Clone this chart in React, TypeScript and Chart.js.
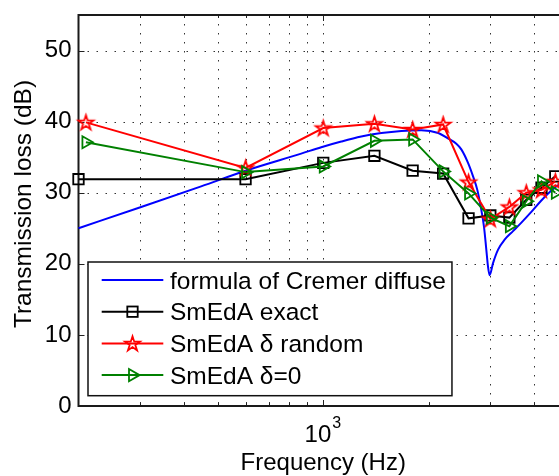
import React, { useEffect, useRef } from 'react';
import { Chart, registerables } from 'chart.js';

Chart.register(...registerables);

const FONT = '"Liberation Sans", Arial, Helvetica, sans-serif';

// ---- data ----
const cremerFreq = [200, 302, 448, 609, 865, 987, 1126, 1284, 1465, 1671, 1905, 2131, 2276, 2399, 2479, 2591, 2678, 2754, 2815, 2878, 2922, 2955, 2987, 3054, 3157, 3296, 3483, 3680, 3929, 4196, 4482, 4786, 5110];
const cremerTL = [25.0, 28.0, 30.9, 33.2, 35.5, 36.4, 37.2, 37.9, 38.4, 38.7, 38.8, 38.4, 37.6, 36.9, 36.1, 34.2, 32.3, 30.4, 28.1, 25.2, 22.0, 19.6, 18.4, 20.1, 22.0, 23.4, 24.6, 25.8, 27.3, 28.9, 30.3, 31.4, 32.3];

const exactFreq = [200, 600, 1000, 1400, 1800, 2200, 2600, 3000, 3400, 3800, 4200, 4600];
const exactTL = [31.9, 31.9, 34.2, 35.2, 33.1, 32.7, 26.4, 26.8, 26.5, 29.0, 30.7, 32.3];

const randomFreq = [210, 600, 1000, 1400, 1800, 2200, 2600, 3000, 3400, 3800, 4200, 4600];
const randomTL = [39.9, 33.5, 39.1, 39.7, 38.9, 39.6, 31.5, 26.3, 28.0, 30.0, 30.4, 31.6];

const zeroFreq = [210, 600, 1000, 1400, 1800, 2200, 2600, 3000, 3400, 3800, 4200, 4600];
const zeroTL = [37.1, 32.9, 33.7, 37.3, 37.5, 33.0, 29.9, 26.5, 25.3, 28.8, 31.6, 30.0];

const xGridTicks = [300, 400, 500, 600, 700, 800, 900, 1000, 2000, 3000, 4000];
const xMajorTicks = [1000];
const yTicks = [0, 10, 20, 30, 40, 50];

const legendLabels = ['formula of Cremer diffuse', 'SmEdA exact', 'SmEdA \u03b4 random', 'SmEdA \u03b4=0'];
const xTitle = 'Frequency (Hz)';
const yTitle = 'Transmission loss (dB)';

const BLUE = '#0000ff';
const BLACK = '#000000';
const RED = '#ff0000';
const GREEN = '#008000';

function makeStar(color: string, R: number, lw: number): HTMLCanvasElement {
  const c = document.createElement('canvas');
  const size = Math.ceil(2 * R + lw * 2 + 3);
  c.width = size;
  c.height = size;
  const g = c.getContext('2d')!;
  const cx = size / 2;
  const cy = size / 2 + R * 0.08;
  g.beginPath();
  for (let i = 0; i < 10; i++) {
    const ang = -Math.PI / 2 + (i * Math.PI) / 5;
    const rr = i % 2 === 0 ? R : R * 0.382;
    const px = cx + rr * Math.cos(ang);
    const py = cy + rr * Math.sin(ang);
    if (i === 0) g.moveTo(px, py);
    else g.lineTo(px, py);
  }
  g.closePath();
  g.strokeStyle = color;
  g.lineWidth = lw;
  g.lineJoin = 'miter';
  g.stroke();
  return c;
}

function toXY(xs: number[], ys: number[]) {
  return xs.map((x, i) => ({ x, y: ys[i] }));
}

export default function App() {
  const ref = useRef<HTMLCanvasElement | null>(null);

  useEffect(() => {
    if (!ref.current) return;
    document.documentElement.style.overflow = 'hidden';
    document.body.style.overflow = 'hidden';
    const star = makeStar(RED, 7.8, 1.8);

    const line = (ctx: CanvasRenderingContext2D, x1: number, y1: number, x2: number, y2: number) => {
      ctx.beginPath();
      ctx.moveTo(x1, y1);
      ctx.lineTo(x2, y2);
      ctx.stroke();
    };

    const drawSquare = (ctx: CanvasRenderingContext2D, x: number, y: number) => {
      ctx.save();
      ctx.strokeStyle = BLACK;
      ctx.lineWidth = 1.8;
      ctx.strokeRect(x - 5.2, y - 5.2, 10.4, 10.4);
      ctx.restore();
    };
    const drawTri = (ctx: CanvasRenderingContext2D, x: number, y: number, r: number) => {
      ctx.save();
      ctx.strokeStyle = GREEN;
      ctx.lineWidth = 1.8;
      ctx.beginPath();
      let rad = Math.PI / 2;
      ctx.moveTo(x + Math.sin(rad) * r, y - Math.cos(rad) * r);
      rad += (2 * Math.PI) / 3;
      ctx.lineTo(x + Math.sin(rad) * r, y - Math.cos(rad) * r);
      rad += (2 * Math.PI) / 3;
      ctx.lineTo(x + Math.sin(rad) * r, y - Math.cos(rad) * r);
      ctx.closePath();
      ctx.stroke();
      ctx.restore();
    };

    const matlabPlugin = {
      id: 'matlabAxes',
      beforeDatasetsDraw(chart: any) {
        const { ctx, chartArea: a, scales } = chart;
        const xs = scales.x;
        const ys = scales.y;
        ctx.save();
        // dotted grid
        ctx.strokeStyle = '#333';
        ctx.lineWidth = 1;
        ctx.setLineDash([1.5, 7.5]);
        for (const f of xGridTicks) {
          const px = Math.round(xs.getPixelForValue(f)) + 0.5;
          line(ctx, px, a.top, px, a.bottom);
        }
        for (const v of yTicks) {
          if (v <= 0) continue;
          const py = Math.round(ys.getPixelForValue(v)) + 0.5;
          line(ctx, a.left, py, a.right, py);
        }
        ctx.setLineDash([]);
        // inward ticks
        ctx.strokeStyle = '#222';
        ctx.lineWidth = 1;
        for (const f of xGridTicks) {
          const px = Math.round(xs.getPixelForValue(f)) + 0.5;
          const len = xMajorTicks.includes(f) ? 6 : 3;
          line(ctx, px, a.bottom, px, a.bottom - len);
          line(ctx, px, a.top, px, a.top + len);
        }
        for (const v of yTicks) {
          const py = Math.round(ys.getPixelForValue(v)) + 0.5;
          line(ctx, a.left, py, a.left + 6, py);
          line(ctx, a.right, py, a.right - 6, py);
        }
        // axes box
        ctx.strokeStyle = '#1a1a1a';
        ctx.lineWidth = 2;
        ctx.strokeRect(a.left, a.top, a.right - a.left, a.bottom - a.top);
        ctx.restore();
      },
      afterDraw(chart: any) {
        const { ctx, chartArea: a, scales } = chart;
        const xs = scales.x;
        ctx.save();
        ctx.fillStyle = '#000';
        // x tick label 10^3
        const p10 = xs.getPixelForValue(xMajorTicks[0]);
        ctx.font = `24px ${FONT}`;
        ctx.textAlign = 'right';
        ctx.textBaseline = 'alphabetic';
        ctx.fillText('10', p10 + 8, 441.7);
        ctx.font = `16px ${FONT}`;
        ctx.textAlign = 'left';
        ctx.fillText('3', p10 + 9, 428);
        // x title
        ctx.font = `24px ${FONT}`;
        ctx.textAlign = 'center';
        ctx.fillText(xTitle, (a.left + a.right) / 2, 470);
        // y title
        ctx.save();
        ctx.translate(30.5, 204);
        ctx.rotate(-Math.PI / 2);
        ctx.font = `24.5px ${FONT}`;
        ctx.textAlign = 'center';
        ctx.fillText(yTitle, 0, 0);
        ctx.restore();

        // legend
        ctx.font = `24.5px ${FONT}`;
        const bx = a.left + 9.5;
        const by = 262;
        const textX = bx + 82;
        let maxW = 0;
        for (const t of legendLabels) maxW = Math.max(maxW, ctx.measureText(t).width);
        const bw = textX + maxW + 6 - bx;
        const bh = 133.7;
        ctx.fillStyle = '#fff';
        ctx.fillRect(bx, by, bw, bh);
        ctx.strokeStyle = '#111';
        ctx.lineWidth = 1.5;
        ctx.strokeRect(bx, by, bw, bh);
        const colors = [BLUE, BLACK, RED, GREEN];
        for (let i = 0; i < legendLabels.length; i++) {
          const ry = by + 18 + i * 31.7;
          ctx.strokeStyle = colors[i];
          ctx.lineWidth = 2;
          line(ctx, bx + 13.7, ry, bx + 75.3, ry);
          const mx = bx + 44.5;
          if (i === 1) drawSquare(ctx, mx, ry);
          if (i === 2) ctx.drawImage(star, Math.round(mx - star.width / 2), Math.round(ry - star.height / 2));
          if (i === 3) drawTri(ctx, mx, ry, 7);
          ctx.fillStyle = '#000';
          ctx.textAlign = 'left';
          ctx.textBaseline = 'alphabetic';
          ctx.fillText(legendLabels[i], textX, ry + 8.6);
        }
        ctx.restore();
      },
    };

    const chart = new Chart(ref.current, {
      type: 'line',
      data: {
        datasets: [
          {
            label: legendLabels[3],
            data: toXY(zeroFreq, zeroTL),
            borderColor: GREEN,
            borderWidth: 2,
            pointStyle: 'triangle',
            rotation: 90,
            pointRadius: 7,
            pointBorderWidth: 1.8,
            pointBorderColor: GREEN,
            pointBackgroundColor: 'rgba(0,0,0,0)',
            order: 1,
            clip: false as any,
          },
          {
            label: legendLabels[2],
            data: toXY(randomFreq, randomTL),
            borderColor: RED,
            borderWidth: 2,
            pointStyle: star as any,
            pointRadius: 7,
            order: 2,
            clip: false as any,
          },
          {
            label: legendLabels[1],
            data: toXY(exactFreq, exactTL),
            borderColor: BLACK,
            borderWidth: 2,
            pointStyle: 'rect',
            pointRadius: 7.4,
            pointBorderWidth: 1.8,
            pointBorderColor: BLACK,
            pointBackgroundColor: 'rgba(0,0,0,0)',
            order: 3,
            clip: false as any,
          },
          {
            label: legendLabels[0],
            data: toXY(cremerFreq, cremerTL),
            borderColor: BLUE,
            borderWidth: 2,
            pointRadius: 0,
            cubicInterpolationMode: 'monotone',
            order: 4,
            clip: false as any,
          },
        ],
      },
      options: {
        animation: false,
        responsive: false,
        devicePixelRatio: 1,
        layout: { padding: { left: 0, top: 15, right: 32, bottom: 0 } },
        plugins: { legend: { display: false }, tooltip: { enabled: false } },
        scales: {
          x: {
            type: 'logarithmic',
            min: 200,
            max: 5000,
            ticks: { display: false },
            grid: { display: false, drawTicks: false },
            border: { display: false },
            afterFit: (s: any) => {
              s.height = 70;
              s.paddingLeft = 0;
              s.paddingRight = 0;
            },
          },
          y: {
            type: 'linear',
            min: 0,
            max: 55,
            afterBuildTicks: (s: any) => {
              s.ticks = yTicks.map((v) => ({ value: v }));
            },
            ticks: {
              font: { family: FONT, size: 24 },
              color: '#000',
              padding: 7,
            },
            grid: { display: false, drawTicks: false },
            border: { display: false },
            afterFit: (s: any) => {
              s.width = 78.5;
              s.paddingTop = 0;
              s.paddingBottom = 0;
            },
          },
        },
      },
      plugins: [matlabPlugin],
    } as any);

    return () => chart.destroy();
  }, []);

  return (
    <div style={{ position: 'fixed', left: 0, top: 0, width: 559, height: 476, overflow: 'hidden', background: '#fff' }}>
      <canvas ref={ref} width={600} height={476} style={{ display: 'block' }} />
    </div>
  );
}
